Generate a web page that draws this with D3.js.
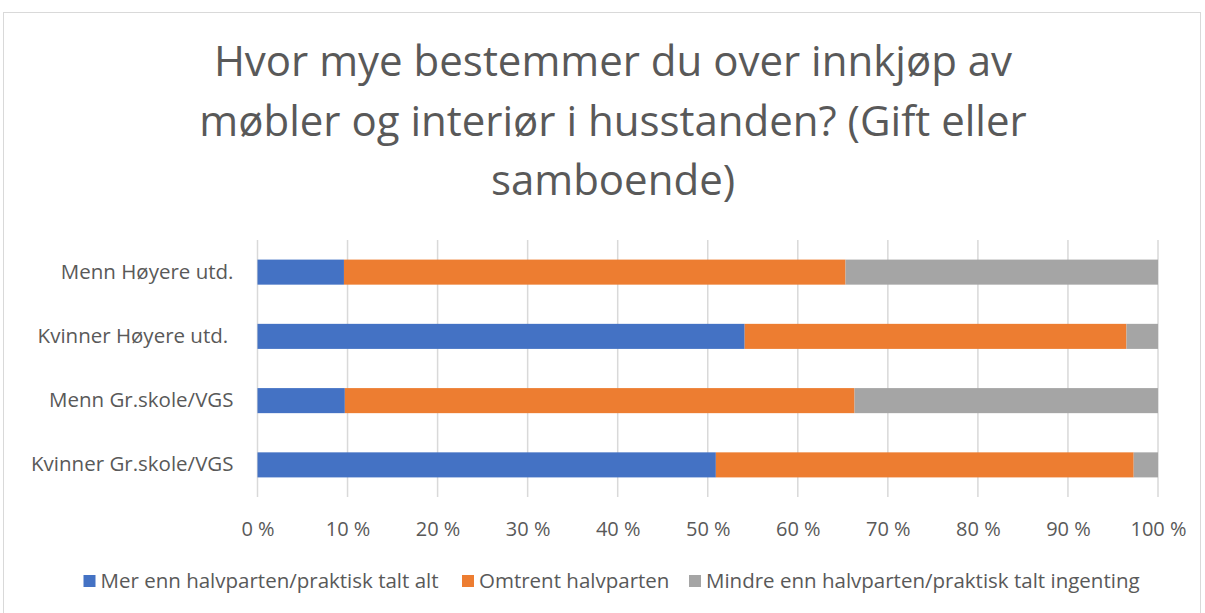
<!DOCTYPE html>
<html>
<head>
<meta charset="utf-8">
<script src="https://cdn.jsdelivr.net/npm/d3@7"></script>
<style>
  body { margin: 0; background: #fff; }
  svg text { font-family: "Open Sans", sans-serif; fill: #595959; }
</style>
</head>
<body>
<div id="chart"></div>
<script>
const categories = ["Menn Høyere utd.", "Kvinner Høyere utd. ", "Menn Gr.skole/VGS", "Kvinner Gr.skole/VGS"];
const seriesNames = ["Mer enn halvparten/praktisk talt alt", "Omtrent halvparten", "Mindre enn halvparten/praktisk talt ingenting"];
const merEnn = [9.6, 54.1, 9.7, 50.9];
const omtrent = [55.7, 42.4, 56.6, 46.4];
const mindreEnn = [34.7, 3.5, 33.7, 2.7];
const xTicks = [0, 10, 20, 30, 40, 50, 60, 70, 80, 90, 100];
const titleLines = ["Hvor mye bestemmer du over innkjøp av", "møbler og interiør i husstanden? (Gift eller", "samboende)"];
const colors = ["#4472C4", "#ED7D31", "#A5A5A5"];

const W = 1205, H = 613;
const margin = { top: 240, right: 47, bottom: 116, left: 257.5 };
const innerW = W - margin.left - margin.right;
const innerH = H - margin.top - margin.bottom;

const svg = d3.select("#chart").append("svg")
  .attr("width", W).attr("height", H);

// chart frame
svg.append("rect")
  .attr("x", 3.5).attr("y", 12.5)
  .attr("width", 1197).attr("height", 620)
  .attr("fill", "#fff").attr("stroke", "#D9D9D9");

// title
svg.append("g").selectAll("text")
  .data(titleLines)
  .join("text")
  .attr("x", 613)
  .attr("y", (d, i) => 76 + i * 59.5)
  .attr("text-anchor", "middle")
  .style("font-size", "42px")
  .text(d => d);

const rows = categories.map((c, i) => ({ cat: c, v0: merEnn[i], v1: omtrent[i], v2: mindreEnn[i] }));
const stacked = d3.stack().keys(["v0", "v1", "v2"])(rows);

const g = svg.append("g").attr("transform", `translate(${margin.left},${margin.top})`);

const x = d3.scaleLinear().domain([0, 100]).range([0, innerW]);
const y = d3.scaleBand().domain(categories).range([0, innerH]).paddingInner(0.61).paddingOuter(0.305);

// grid
g.append("g")
  .selectAll("line")
  .data(xTicks)
  .join("line")
  .attr("x1", d => x(d)).attr("x2", d => x(d))
  .attr("y1", 0).attr("y2", innerH)
  .attr("stroke", "#D9D9D9").attr("stroke-width", 1.5);

// bars
g.append("g")
  .selectAll("g")
  .data(stacked)
  .join("g")
  .attr("fill", (d, i) => colors[i])
  .selectAll("rect")
  .data(d => d)
  .join("rect")
  .attr("x", d => x(d[0]))
  .attr("y", d => y(d.data.cat))
  .attr("width", d => x(d[1]) - x(d[0]))
  .attr("height", y.bandwidth());

// x axis
const xAxis = g.append("g")
  .attr("transform", `translate(0,${innerH})`)
  .call(d3.axisBottom(x).tickValues(xTicks).tickFormat(d => d + " %").tickSize(0).tickPadding(25));
xAxis.select(".domain").remove();
xAxis.selectAll("text").style("font-size", "20px").attr("fill", "#595959");

// y axis
const yAxis = g.append("g")
  .call(d3.axisLeft(y).tickSize(0).tickPadding(24));
yAxis.select(".domain").remove();
yAxis.selectAll("text").style("font-size", "20.5px").attr("fill", "#595959").style("white-space", "pre");

// legend
const legendX = [83.5, 462, 689];
const legend = svg.append("g").selectAll("g")
  .data(seriesNames)
  .join("g")
  .attr("transform", (d, i) => `translate(${legendX[i]},575)`);
legend.append("rect")
  .attr("width", 12).attr("height", 12)
  .attr("fill", (d, i) => colors[i]);
legend.append("text")
  .attr("x", 17).attr("y", 13)
  .style("font-size", "20.5px")
  .text(d => d);
</script>
</body>
</html>
